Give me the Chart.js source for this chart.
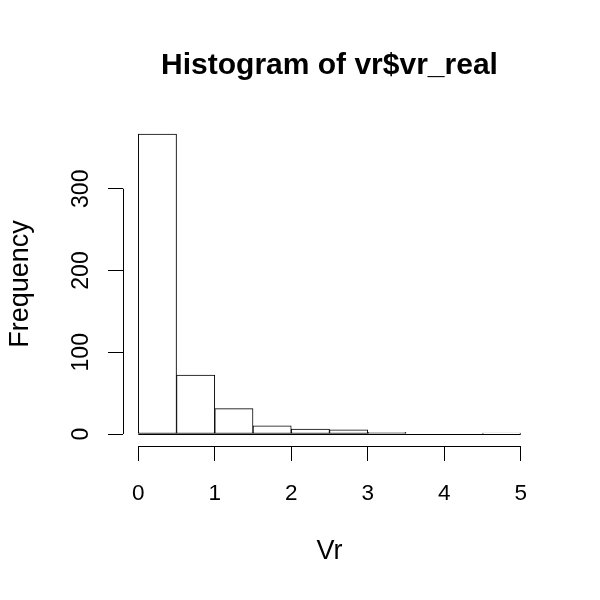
<!DOCTYPE html>
<html>
<head>
<meta charset="utf-8">
<script src="https://cdn.jsdelivr.net/npm/chart.js@4/dist/chart.umd.min.js"></script>
<style>
  html, body { margin: 0; padding: 0; background: #fff; }
  #wrap { width: 600px; height: 600px; }
</style>
</head>
<body>
<div id="wrap"><canvas id="histChart"></canvas></div>
<script>
// Histogram data (bin edges and counts)
const breaks = [0, 0.5, 1, 1.5, 2, 2.5, 3, 3.5, 4, 4.5, 5];
const counts = [367, 72, 31, 10, 6, 5, 2, 0, 0, 1];
const xTicks = [0, 1, 2, 3, 4, 5];
const yTicks = [0, 100, 200, 300];
const titleText = 'Histogram of vr$vr_real';
const xLabel = 'Vr';
const yLabel = 'Frequency';

const FONT = "'Liberation Sans', Arial, sans-serif";

// R style: axis range = data range extended by 4%
const xMin = breaks[0], xMax = breaks[breaks.length - 1];
const yMax = Math.max(...counts);
const xPad = (xMax - xMin) * 0.04;
const yPad = yMax * 0.04;

const points = counts.map((c, i) => ({ x: (breaks[i] + breaks[i + 1]) / 2, y: c }));

// draws R-like axis lines, y tick labels, main title and zero-height bins
const rAxes = {
    id: 'rAxes',
    afterDraw(chart) {
        const ctx = chart.ctx;
        const xs = chart.scales.x, ys = chart.scales.y;
        const area = chart.chartArea;
        ctx.save();
        ctx.strokeStyle = '#000';
        ctx.lineWidth = 1;

        // zero-height bins show as a line on the baseline
        const y0 = Math.round(ys.getPixelForValue(0)) + 0.5;
        ctx.beginPath();
        ctx.moveTo(xs.getPixelForValue(breaks[0]), y0);
        ctx.lineTo(xs.getPixelForValue(breaks[breaks.length - 1]), y0);
        ctx.stroke();

        // x axis line
        const xb = Math.round(area.bottom) + 0.5;
        ctx.beginPath();
        ctx.moveTo(xs.getPixelForValue(xTicks[0]), xb);
        ctx.lineTo(xs.getPixelForValue(xTicks[xTicks.length - 1]), xb);
        ctx.stroke();

        // y axis line
        const yl = Math.round(area.left) + 0.5;
        ctx.beginPath();
        ctx.moveTo(yl, ys.getPixelForValue(yTicks[0]));
        ctx.lineTo(yl, ys.getPixelForValue(yTicks[yTicks.length - 1]));
        ctx.stroke();

        // rotated y tick labels
        ctx.fillStyle = '#000';
        ctx.font = '23px ' + FONT;
        ctx.textAlign = 'center';
        ctx.textBaseline = 'alphabetic';
        yTicks.forEach(v => {
            ctx.save();
            ctx.translate(87.5, ys.getPixelForValue(v));
            ctx.rotate(-Math.PI / 2);
            ctx.fillText(String(v), 0, 0);
            ctx.restore();
        });

        // main title
        ctx.font = 'bold 30px ' + FONT;
        ctx.fillText(titleText, (area.left + area.right) / 2, 73.5);
        ctx.restore();
    }
};

new Chart(document.getElementById('histChart'), {
    type: 'bar',
    data: {
        datasets: [{
            data: points,
            backgroundColor: '#fff',
            borderColor: '#000',
            borderWidth: 1,
            borderSkipped: false,
            barPercentage: 1,
            categoryPercentage: 1
        }]
    },
    options: {
        responsive: true,
        maintainAspectRatio: false,
        animation: false,
        devicePixelRatio: 1,
        layout: { padding: { top: 122, right: 64, left: 0, bottom: 0 } },
        plugins: {
            legend: { display: false },
            tooltip: { enabled: false }
        },
        scales: {
            x: {
                type: 'linear',
                offset: false,
                min: xMin - xPad,
                max: xMax + xPad,
                afterBuildTicks: s => { s.ticks = xTicks.map(v => ({ value: v })); },
                afterFit: s => { s.height = 154; },
                border: { display: false },
                grid: { offset: false, drawOnChartArea: false, drawTicks: true, tickLength: 15, color: '#000' },
                ticks: {
                    color: '#000',
                    padding: 19,
                    maxRotation: 0,
                    font: { family: FONT, size: 22.5 }
                },
                title: {
                    display: true,
                    text: xLabel,
                    color: '#000',
                    font: { family: FONT, size: 27 },
                    padding: { top: 0, bottom: 32 }
                }
            },
            y: {
                min: -yPad,
                max: yMax + yPad,
                afterBuildTicks: s => { s.ticks = yTicks.map(v => ({ value: v })); },
                afterFit: s => { s.width = 123; },
                border: { display: false },
                grid: { drawOnChartArea: false, drawTicks: true, tickLength: 15, color: '#000' },
                ticks: { display: false },
                title: {
                    display: true,
                    text: yLabel,
                    color: '#000',
                    font: { family: FONT, size: 27 },
                    padding: { top: 4, bottom: 0 }
                }
            }
        }
    },
    plugins: [rAxes]
});
</script>
</body>
</html>
